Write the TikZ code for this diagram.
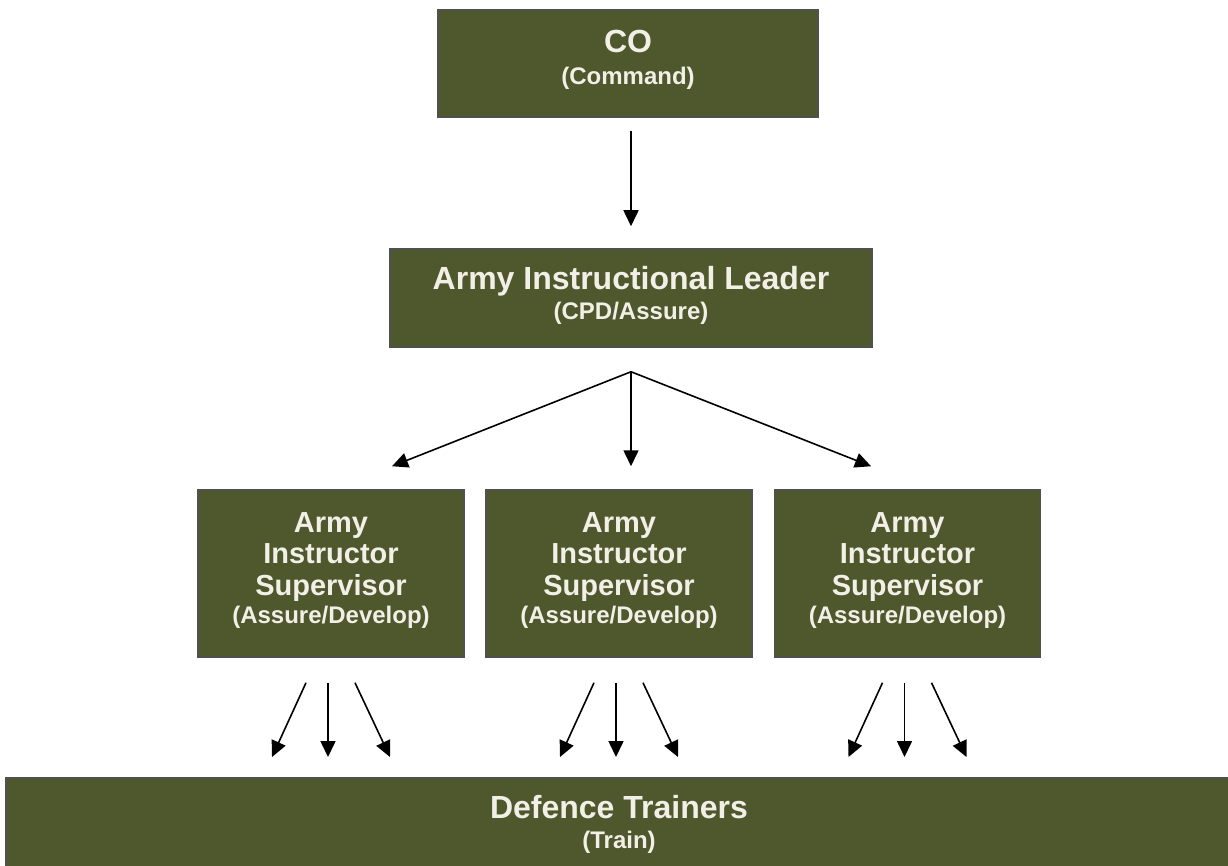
\documentclass[tikz,border=0pt]{standalone}
\usepackage{fontspec}
\setmainfont{Liberation Sans}
\usetikzlibrary{arrows.meta,calc}
\definecolor{olivebox}{RGB}{79,87,45}
\definecolor{edgegray}{RGB}{80,80,80}
\definecolor{boxtext}{RGB}{242,240,230}
\newcommand\subfont{\fontsize{24}{28}\selectfont}
\begin{document}
\begin{tikzpicture}[x=1pt,y=-1pt,
  box/.style={draw=edgegray, line width=1.5pt, fill=olivebox, inner sep=0pt},
  label/.style={text=boxtext, font=\bfseries\fontsize{32}{34}\selectfont, align=center, inner sep=0pt},
  suplabel/.style={label, font=\bfseries\fontsize{29}{31.5}\selectfont},
  arr/.style={line width=1.6pt, -{Triangle[width=15pt,length=16pt]}}
]
\useasboundingbox (0,0) rectangle (1228,866);
\fill[white] (0,0) rectangle (1228,866);
\clip (0,0) rectangle (1228,866);

% boxes
\node[box, minimum width=380pt, minimum height=107pt] (co) at (628,63.5) {};
\node[label] (cot) at (628,60) {CO\\[-2pt]{\subfont (Command)}};

\node[box, minimum width=482pt, minimum height=98pt] (lead) at (631,298) {};
\node[label] (leadt) at (631,295) {Army Instructional Leader\\[-4pt]{\subfont (CPD/Assure)}};

\node[box, minimum width=266pt, minimum height=167pt] (sup1) at (331,573.5) {};
\node[box, minimum width=266pt, minimum height=167pt] (sup2) at (619,573.5) {};
\node[box, minimum width=266pt, minimum height=167pt] (sup3) at (907.5,573.5) {};
\foreach \s in {sup1,sup2,sup3}{
  \node[suplabel] (\s t) at ([yshift=3pt]\s.center) {Army\\Instructor\\Supervisor\\[-3.5pt]{\subfont (Assure/Develop)}};
}

\node[box, minimum width=1226pt, minimum height=200pt] (dt) at (619,878) {};
\node[label] (dtt) at (619,824.5) {Defence Trainers\\[-4pt]{\subfont (Train)}};

% arrows
\coordinate (a0) at ([yshift=-13pt]co.south -| lead.north);
\coordinate (a1) at ([yshift=22pt]lead.north);
\draw[arr] (a0) -- (a1);

\coordinate (fork) at ([yshift=-24pt]lead.south);
\coordinate (t1) at ([xshift=61pt,yshift=23pt]sup1.north);
\coordinate (t2) at ([yshift=23pt]sup2.north -| fork);
\coordinate (t3) at ([xshift=-36.5pt,yshift=23pt]sup3.north);
\draw[arr] (fork) -- (t1);
\draw[arr] (fork) -- (t2);
\draw[arr] (fork) -- (t3);

\foreach \s in {sup1,sup2,sup3}{
  \coordinate (\s sL) at ([xshift=-25pt,yshift=-25pt]\s.south);
  \coordinate (\s sM) at ([xshift=-3pt,yshift=-25pt]\s.south);
  \coordinate (\s sR) at ([xshift=24pt,yshift=-25pt]\s.south);
  \coordinate (\s eL) at ([xshift=-59pt]\s.south |- 0,757);
  \coordinate (\s eM) at ([xshift=-3pt]\s.south |- 0,757);
  \coordinate (\s eR) at ([xshift=59pt]\s.south |- 0,757);
  \draw[arr] (\s sL) -- (\s eL);
  \draw[arr] (\s sM) -- (\s eM);
  \draw[arr] (\s sR) -- (\s eR);
}
\end{tikzpicture}
\end{document}
